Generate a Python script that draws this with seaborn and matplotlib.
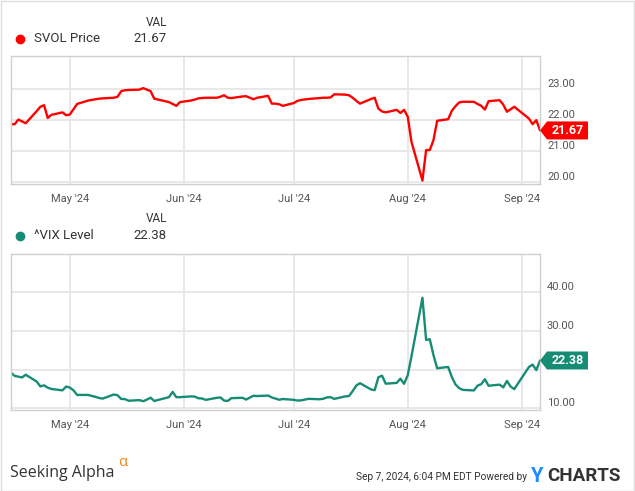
import numpy as np
import pandas as pd
import matplotlib
matplotlib.use("Agg")
import matplotlib.pyplot as plt
import seaborn as sns
from matplotlib import transforms
from matplotlib.patches import Polygon, Rectangle
from matplotlib.lines import Line2D

# ---------------- data ----------------
holidays = ["2024-05-27", "2024-06-19", "2024-07-04", "2024-09-02"]
dates = pd.bdate_range("2024-04-15", "2024-09-06")
dates = dates[~dates.isin(pd.to_datetime(holidays))]

svol_price = [
    21.87, 21.87, 22.02, 21.96, 21.90, 22.29, 22.43, 22.48, 22.07, 22.17, 22.25, 22.16,
    22.18, 22.35, 22.52, 22.63, 22.65, 22.67, 22.69, 22.70, 22.72, 22.75, 22.93, 22.96,
    22.97, 22.98, 23.03, 22.98, 22.93, 22.69, 22.58, 22.52, 22.46, 22.58,
    22.63, 22.66, 22.70, 22.71, 22.72, 22.72, 22.75, 22.80, 22.72, 22.71, 22.76, 22.77,
    22.67, 22.72, 22.78, 22.53, 22.53, 22.51, 22.46,
    22.55, 22.62, 22.65, 22.68, 22.71, 22.72, 22.72, 22.73, 22.83, 22.82, 22.80, 22.72,
    22.62, 22.53, 22.68, 22.72, 22.37, 22.28, 22.25, 22.33, 22.23, 22.33,
    22.11, 21.31, 20.06, 21.04, 21.04, 21.36, 21.98, 22.03, 22.30, 22.45, 22.57, 22.59,
    22.59, 22.52, 22.46, 22.34, 22.61, 22.64, 22.50, 22.27, 22.35, 22.43,
    22.05, 21.87, 22.00, 21.67,
]
vix_level = [
    19.23, 18.40, 18.21, 18.00, 18.71, 16.94, 15.69, 15.97, 15.37, 15.03, 14.67, 15.65,
    15.39, 14.68, 13.49, 13.49, 13.23, 13.00, 12.69, 12.55, 13.60, 13.42, 12.45, 12.42,
    11.99, 12.15, 11.86, 12.29, 12.77, 11.93, 12.92, 14.28, 12.91, 12.92,
    13.11, 13.06, 12.63, 12.58, 12.22, 12.74, 12.85, 12.04, 11.94, 12.66, 12.75, 12.30,
    13.28, 13.20, 13.33, 12.84, 12.55, 12.24, 12.44,
    12.22, 12.03, 12.09, 12.48, 12.37, 12.51, 12.85, 12.91, 12.46, 13.12, 13.19, 14.48,
    15.93, 16.52, 14.91, 14.72, 18.04, 18.46, 16.39, 16.60, 17.69, 16.36,
    18.59, 23.39, 38.57, 27.71, 27.85, 23.79, 20.37, 20.71, 18.12, 16.19, 15.23, 14.80,
    14.65, 15.88, 16.27, 17.55, 15.86, 16.15, 15.43, 17.11, 15.65, 15.00,
    20.72, 21.32, 19.90, 22.38,
]
month_ticks = pd.to_datetime(["2024-05-01", "2024-06-01", "2024-07-01", "2024-08-01", "2024-09-01"])
month_labels = ["May '24", "Jun '24", "Jul '24", "Aug '24", "Sep '24"]
svol_ticks = [20, 21, 22, 23]
svol_tick_labels = ["20.00", "21.00", "22.00", "23.00"]
vix_ticks = [10, 20, 30, 40]
vix_tick_labels = ["10.00", "", "30.00", "40.00"]
series_names = ["SVOL Price", "^VIX Level"]

df = pd.DataFrame({"date": dates, "svol": svol_price, "vix": vix_level})

# ---------------- style ----------------
sns.set_theme(style="white")
plt.rcParams["font.family"] = ["Roboto", "DejaVu Sans"]

RED = "#ff0000"
TEAL = "#178c74"
GRID = "#e6e6e6"
SPINE = "#d0d0d0"
TICK = "#555555"
TXT = "#333333"

W, H = 635, 491
fig = plt.figure(figsize=(W / 100, H / 100), dpi=100)
fig.patch.set_facecolor("white")

def fx(x):
    return x / W

def fy(y):
    return 1 - y / H

ax1 = fig.add_axes([fx(11), fy(184), fx(540) - fx(11), fy(56) - fy(184)])
ax2 = fig.add_axes([fx(11), fy(410), fx(540) - fx(11), fy(253.5) - fy(410)])

def style_axis(ax, col, color, ylim, yt, ytl):
    sns.lineplot(data=df, x="date", y=col, ax=ax, color=color, linewidth=1.7)
    ax.set_xlim(df["date"].iloc[0], df["date"].iloc[-1])
    ax.set_ylim(*ylim)
    ax.set_xlabel("")
    ax.set_ylabel("")
    ax.set_xticks(month_ticks)
    ax.set_xticklabels(month_labels)
    ax.yaxis.tick_right()
    ax.set_yticks(yt)
    ax.set_yticklabels(ytl)
    ax.tick_params(axis="both", length=0, labelsize=8, colors=TICK)
    ax.tick_params(axis="x", pad=7)
    ax.tick_params(axis="y", pad=5)
    plt.setp(ax.get_yticklabels(), va="bottom")
    ax.grid(True, color=GRID, linewidth=1.3)
    ax.set_axisbelow(True)
    for s in ax.spines.values():
        s.set_color(SPINE)
        s.set_linewidth(1.0)
        s.set_visible(True)

    # value tag at last point
    last = df[col].iloc[-1]
    anchor = transforms.ScaledTranslation(1.0, last, ax.get_yaxis_transform())
    tr = fig.dpi_scale_trans + anchor
    verts = [(0.0, 0.0), (0.07, 0.09), (0.48, 0.09), (0.48, -0.09), (0.07, -0.09)]
    poly = Polygon(verts, closed=True, transform=tr, facecolor=color,
                   edgecolor="none", clip_on=False, zorder=10)
    ax.add_artist(poly)
    ax.text(0.275, -0.005, f"{last:.2f}", transform=tr, color="white",
            fontsize=9, fontweight="bold", ha="center", va="center",
            clip_on=False, zorder=11)
    return last

last1 = style_axis(ax1, "svol", RED, (19.95, 24.06), svol_ticks, svol_tick_labels)
last2 = style_axis(ax2, "vix", TEAL, (9.6, 50.0), vix_ticks, vix_tick_labels)

# ---------------- legends ----------------
def legend_block(y_head, y_row, name, color, val):
    fig.text(fx(167), fy(y_head), "VAL", ha="right", va="center", fontsize=8.5, color=TXT)
    fig.add_artist(Line2D([fx(20)], [fy(y_row)], marker="o", markersize=6,
                          color=color, linestyle="none", transform=fig.transFigure))
    fig.text(fx(34), fy(y_row), name, ha="left", va="center", fontsize=9.5, color=TXT)
    fig.text(fx(167), fy(y_row), f"{val:.2f}", ha="right", va="center", fontsize=9.5, color=TXT)

legend_block(22, 39, series_names[0], RED, last1)
legend_block(219, 235.5, series_names[1], TEAL, last2)

# ---------------- footer ----------------
fig.text(fx(10), fy(473), "Seeking Alpha", ha="left", va="center", fontsize=11.5,
         color=TXT, family=["Open Sans", "DejaVu Sans"])
fig.text(fx(118), fy(462), "\u03b1", ha="left", va="center", fontsize=10.5,
         color="#f5821f", family=["Open Sans", "DejaVu Sans"])
fig.text(fx(527), fy(477), "Sep 7, 2024, 6:04 PM EDT Powered by", ha="right",
         va="center", fontsize=7.3, color=TXT)
fig.text(fx(531), fy(476), "Y", ha="left", va="center", fontsize=14.5,
         fontweight="bold", color="#1a8cff")
fig.text(fx(547), fy(476), "CHARTS", ha="left", va="center", fontsize=13.5,
         fontweight="bold", color=TXT)

fig.add_artist(Rectangle((0.001, 0.001), 0.997, 0.997, transform=fig.transFigure,
                         fill=False, edgecolor="#dddddd", linewidth=1.0))

fig.savefig("out.png", dpi=100, facecolor="white")
